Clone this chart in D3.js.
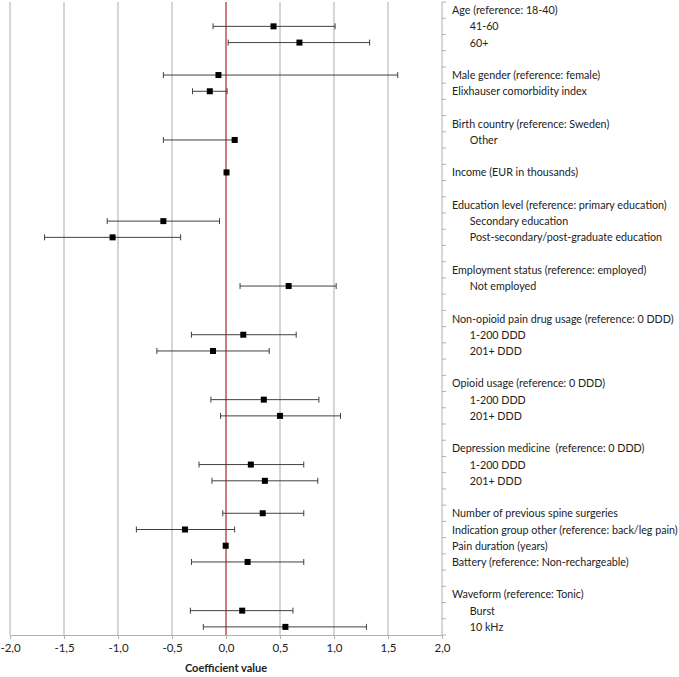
<!DOCTYPE html>
<html><head><meta charset="utf-8">
<script src="https://cdn.jsdelivr.net/npm/d3@7"></script>
<style>body{margin:0;background:#fff}svg{display:block}</style>
</head><body>
<script>
const labels = [
 "Age (reference: 18-40)","41-60","60+","",
 "Male gender (reference: female)","Elixhauser comorbidity index","",
 "Birth country (reference: Sweden)","Other","",
 "Income (EUR in thousands)","",
 "Education level (reference: primary education)","Secondary education","Post-secondary/post-graduate education","",
 "Employment status (reference: employed)","Not employed","",
 "Non-opioid pain drug usage (reference: 0 DDD)","1-200 DDD","201+ DDD","",
 "Opioid usage (reference: 0 DDD)","1-200 DDD","201+ DDD","",
 "Depression medicine  (reference: 0 DDD)","1-200 DDD","201+ DDD","",
 "Number of previous spine surgeries","Indication group other (reference: back/leg pain)","Pain duration (years)","Battery (reference: Non-rechargeable)","",
 "Waveform (reference: Tonic)","Burst","10 kHz"
];
const indented = [false,true,true,false,false,false,false,false,true,false,false,false,false,true,true,false,false,true,false,false,true,true,false,false,true,true,false,false,true,true,false,false,false,false,false,false,false,true,true];
const estimate = [null,0.44,0.68,null,-0.07,-0.15,null,null,0.08,null,0.005,null,null,-0.58,-1.05,null,null,0.58,null,null,0.16,-0.12,null,null,0.35,0.50,null,null,0.23,0.36,null,0.34,-0.38,-0.003,0.20,null,null,0.15,0.55];
const lower = [null,-0.12,0.02,null,-0.58,-0.31,null,null,-0.58,null,0.0,null,null,-1.10,-1.68,null,null,0.13,null,null,-0.32,-0.64,null,null,-0.14,-0.05,null,null,-0.25,-0.13,null,-0.03,-0.83,-0.02,-0.32,null,null,-0.33,-0.21];
const upper = [null,1.01,1.33,null,1.59,0.01,null,null,0.10,null,0.01,null,null,-0.06,-0.42,null,null,1.02,null,null,0.65,0.40,null,null,0.86,1.06,null,null,0.72,0.85,null,0.72,0.08,0.01,0.72,null,null,0.62,1.30];
const xTicks = [-2,-1.5,-1,-0.5,0,0.5,1,1.5,2];

const W=679,H=677;
const L=10,R=442,T=2,B=635;
const svg=d3.select("body").append("svg").attr("width",W).attr("height",H);
const x=d3.scaleLinear().domain([-2,2]).range([L,R]);
const y=d3.scaleBand().domain(d3.range(labels.length)).range([T,B]);
const font="Lato, 'Open Sans', sans-serif";

// gridlines
svg.append("g").selectAll("line").data(xTicks.slice(0,-1)).join("line")
 .attr("x1",d=>x(d)).attr("x2",d=>x(d)).attr("y1",T).attr("y2",B)
 .attr("stroke",d=>d===0?"none":"#c8c8c8").attr("stroke-width",1.5);

// bottom axis
const xAxis=d3.axisBottom(x).tickValues(xTicks).tickSize(4).tickPadding(5)
 .tickFormat(d=>d3.format(".1f")(d).replace(".",",").replace("−","-"));
const gx=svg.append("g").attr("transform",`translate(0,${B})`).call(xAxis);
gx.select(".domain").attr("stroke","#b0b0b0");
gx.selectAll(".tick line").attr("stroke","#b0b0b0");
gx.selectAll("text").attr("font-family",font).attr("font-size",11.5).attr("fill","#222");

// right axis line and ticks at band boundaries
svg.append("line").attr("x1",R).attr("x2",R).attr("y1",T).attr("y2",B).attr("stroke","#b0b0b0");
svg.append("g").selectAll("line").data(d3.range(labels.length+1)).join("line")
 .attr("x1",R).attr("x2",R+4)
 .attr("y1",i=>i<labels.length?y(i):B).attr("y2",i=>i<labels.length?y(i):B)
 .attr("stroke","#b0b0b0");

// zero line
svg.append("line").attr("x1",x(0)).attr("x2",x(0)).attr("y1",T).attr("y2",B)
 .attr("stroke","#c0504d").attr("stroke-width",1.5);

// error bars
const rows=d3.range(labels.length).filter(i=>estimate[i]!==null);
const cy=i=>y(i)+y.bandwidth()/2;
const eb=svg.append("g").attr("stroke","#404040").attr("stroke-width",1);
eb.selectAll(".ci").data(rows).join("line")
 .attr("x1",i=>x(lower[i])).attr("x2",i=>x(upper[i])).attr("y1",cy).attr("y2",cy);
eb.selectAll(".capl").data(rows).join("line")
 .attr("x1",i=>x(lower[i])).attr("x2",i=>x(lower[i])).attr("y1",i=>cy(i)-3).attr("y2",i=>cy(i)+3);
eb.selectAll(".capu").data(rows).join("line")
 .attr("x1",i=>x(upper[i])).attr("x2",i=>x(upper[i])).attr("y1",i=>cy(i)-3).attr("y2",i=>cy(i)+3);
svg.append("g").selectAll("rect").data(rows).join("rect")
 .attr("x",i=>x(estimate[i])-3).attr("y",i=>cy(i)-3).attr("width",6).attr("height",6).attr("fill","#000");

// labels (compressed horizontally to fit like the narrow original font)
const lg=svg.append("g");
const lt=lg.selectAll("text").data(d3.range(labels.length)).join("text")
 .attr("x",i=>indented[i]?19:0).attr("y",cy).attr("dy","0.35em")
 .attr("font-family",font).attr("font-size",11.5).attr("fill","#222")
 .style("white-space","pre")
 .text(i=>labels[i]);
let maxW=0;
lt.each(function(i){const w=this.getComputedTextLength()+(indented[i]?19:0); if(w>maxW)maxW=w;});
const k=Math.min(1,226/maxW);
lg.attr("transform",`translate(452,0) scale(${k},1)`);

svg.append("text").attr("x",x(0)).attr("y",668).attr("dy","0.35em").attr("text-anchor","middle")
 .attr("font-family",font).attr("font-size",11).attr("font-weight","bold").attr("fill","#222")
 .text("Coefficient value");
</script>
</body></html>
